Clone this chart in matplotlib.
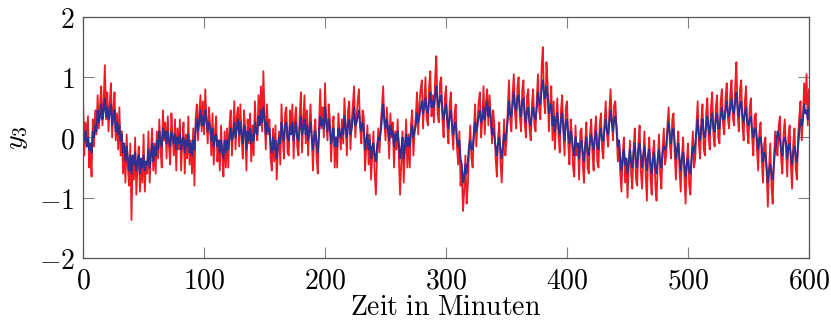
import matplotlib
matplotlib.use("Agg")
import matplotlib.pyplot as plt
from matplotlib.ticker import FuncFormatter

plt.rcParams['mathtext.fontset'] = 'cm'

# sampling grid in minutes
t = list(range(0, 601))

# measured signal y3, one value per minute
y3_meas = [
    0.6, -0.3, 0.25, -0.1, 0.35, -0.5, -0.2, -0.65, 0.3, -0.15,
    0.45, 0.05, 0.7, 0.15, 0.55, 0.85, 0.2, 0.6, 1.2, 0.3,
    0.75, 0.1, 0.55, 0.9, 0.0, 0.5, 0.75, -0.05, 0.4, -0.2,
    0.5, -0.3, 0.1, -0.6, -0.2, -0.75, 0.05, -0.5, -0.8, -0.1,
    -1.37, -0.3, -0.7, 0.0, -0.95, -0.45, -0.15, -0.9, -0.35, -0.75,
    0.05, -0.9, -0.4, -0.6, 0.1, -0.75, -0.3, 0.15, -0.55, -0.1,
    -0.6, 0.1, -0.35, 0.3, -0.2, -0.5, 0.45, -0.05, 0.25, -0.35,
    0.35, -0.15, -0.45, 0.4, 0.0, -0.3, 0.3, -0.55, 0.15, -0.2,
    0.3, -0.55, -0.1, 0.25, -0.6, 0.05, -0.35, 0.35, -0.45, -0.05,
    -0.6, 0.15, -0.8, 0.3, 0.55, -0.05, 0.4, 0.7, 0.1, 0.6,
    0.05, 0.8, 0.3, -0.1, 0.5, 0.2, -0.3, 0.4, -0.45, 0.1,
    0.35, -0.4, -0.05, -0.55, 0.2, -0.3, -0.65, 0.1, -0.5, 0.15,
    -0.5, 0.2, 0.45, -0.3, 0.1, 0.6, -0.2, 0.35, 0.5, -0.15,
    0.55, 0.0, -0.35, 0.45, 0.15, -0.55, 0.3, -0.1, 0.4, -0.4,
    0.2, -0.3, 0.6, 0.1, -0.05, 0.7, 0.25, 0.85, 0.1, 1.1,
    0.4, -0.2, 0.55, 0.05, 0.3, -0.35, -0.55, 0.15, -0.4, 0.2,
    -0.7, -0.2, 0.1, -0.45, 0.55, 0.0, -0.35, 0.4, 0.5, -0.25,
    -0.3, 0.45, 0.1, 0.55, -0.35, 0.3, 0.5, -0.15, -0.3, 0.35,
    0.75, -0.25, 0.3, 0.7, -0.1, 0.45, -0.3, 0.2, 0.55, 0.0,
    -0.55, 0.1, 0.3, -0.35, -0.6, 0.2, 0.8, 0.15, 0.5, 0.0,
    0.9, 0.25, -0.05, 0.55, 0.3, -0.4, 0.1, 0.35, -0.5, 0.0,
    -0.5, 0.4, 0.1, -0.2, 0.3, -0.1, 0.65, 0.2, -0.3, 0.45,
    0.6, -0.2, 0.25, 0.55, 0.85, 0.0, 0.3, 0.6, 0.8, 0.15,
    -0.1, 0.45, 0.35, -0.55, -0.2, 0.2, -0.45, 0.05, -0.7, -0.3,
    0.1, -0.6, -0.95, -0.3, 0.15, -0.25, 0.2, 0.5, 0.85, 0.25,
    -0.05, 0.5, 0.15, -0.35, 0.4, 0.0, 0.25, -0.5, 0.1, -0.2,
    0.3, -0.3, -0.95, -0.4, 0.1, -0.75, -0.25, 0.3, -0.5, 0.05,
    -0.5, 0.2, 0.45, -0.3, 0.1, 0.35, 0.75, 0.05, 0.55, 0.8,
    0.95, 0.15, 0.6, 1.0, 0.3, 0.2, 0.85, 1.1, 0.35, 0.7,
    0.25, 1.0, 1.35, 0.4, 0.25, 0.9, 1.0, 0.3, 0.0, 0.65,
    0.85, 0.2, -0.1, 0.55, 0.75, 0.1, -0.2, 0.4, 0.55, -0.15,
    -0.45, 0.1, -0.8, -0.55, -1.22, -0.9, -0.3, -1.1, -0.8, -0.2,
    0.2, -0.35, -0.5, 0.1, 0.55, -0.15, 0.25, 0.6, 0.75, 0.0,
    0.3, 0.85, 0.05, 0.6, 0.8, 0.2, 0.7, 0.35, -0.1, 0.45,
    0.2, -0.35, -0.65, 0.0, 0.25, -0.4, -0.75, -0.2, 0.3, -0.3,
    -0.05, 0.45, 0.95, 0.3, 0.1, 0.7, 1.05, 0.4, 0.15, 0.85,
    1.0, 0.35, 0.1, 0.8, 0.95, 0.25, 0.0, 0.7, 0.8, 0.15,
    -0.05, 0.55, 0.8, 0.2, 0.1, 0.65, 1.05, 0.45, 0.3, 1.15,
    1.5, 0.6, 0.4, 1.25, 0.9, 0.1, 0.55, 0.85, -0.05, 0.6,
    -0.2, 0.3, 0.65, 0.0, -0.25, 0.45, 0.7, 0.1, -0.3, 0.5,
    0.6, -0.1, -0.45, 0.3, 0.05, -0.5, -0.65, 0.2, -0.3, -0.1,
    -0.7, 0.1, 0.15, -0.45, -0.75, -0.1, 0.25, -0.5, -0.6, 0.05,
    0.3, -0.25, -0.55, 0.1, 0.35, -0.4, -0.5, 0.2, 0.4, -0.2,
    -0.35, 0.25, 0.6, 0.05, -0.15, 0.45, 0.8, 0.3, -0.05, 0.55,
    0.6, 0.1, -0.4, -0.05, -0.6, -0.9, -0.3, 0.0, -0.75, -0.35,
    -1.0, -0.5, -0.05, -0.6, -0.85, -0.2, 0.15, -0.7, -0.8, -0.1,
    0.2, -0.55, -0.85, -0.35, 0.1, -0.6, -1.05, -0.3, 0.0, -0.7,
    -0.95, -0.25, -0.05, -0.8, -1.05, -0.4, 0.05, -0.6, -0.85, -0.2,
    0.15, -0.45, -0.3, 0.2, 0.5, -0.1, -0.35, 0.3, 0.4, -0.25,
    -0.7, -0.2, 0.1, -0.55, -0.9, -0.3, 0.0, -0.65, -1.1, -0.4,
    -0.1, -0.8, -0.95, -0.3, 0.1, -0.5, -0.35, 0.2, 0.6, -0.1,
    -0.35, 0.3, 0.55, -0.2, -0.3, 0.4, 0.65, 0.0, -0.2, 0.5,
    0.75, 0.05, -0.15, 0.5, 0.7, 0.0, -0.1, 0.6, 0.8, 0.2,
    0.05, 0.65, 0.9, 0.3, 0.15, 0.75, 0.95, 0.35, 0.2, 0.85,
    1.25, 0.4, 0.1, 0.8, 0.95, 0.2, -0.05, 0.6, 0.85, 0.1,
    -0.1, 0.5, 0.65, 0.0, -0.3, 0.35, 0.4, -0.2, -0.55, 0.1,
    0.25, -0.4, -0.75, -0.1, 0.0, -0.6, -1.15, -0.5, -0.1, -0.8,
    -1.1, -0.4, 0.1, -0.2, -0.3, 0.2, 0.35, -0.35, -0.6, 0.05,
    0.3, -0.2, -0.65, 0.0, 0.2, -0.45, -0.85, -0.1, 0.15, -0.5,
    -0.7, 0.0, 0.35, 0.6, -0.05, 0.3, 0.9, 0.55, 1.05, 0.2,
    0.8,
]

# filtered estimate of y3, one value per minute
y3_filt = [
    0.15, -0.05, 0.1, -0.15, 0.0, -0.2, -0.1, -0.25, 0.1, 0.0,
    0.2, 0.1, 0.45, 0.25, 0.35, 0.55, 0.3, 0.45, 0.65, 0.35,
    0.5, 0.3, 0.4, 0.55, 0.2, 0.35, 0.45, 0.1, 0.25, 0.05,
    0.2, -0.05, 0.05, -0.25, -0.1, -0.4, -0.15, -0.35, -0.55, -0.3,
    -0.6, -0.3, -0.45, -0.25, -0.55, -0.4, -0.3, -0.6, -0.35, -0.5,
    -0.3, -0.55, -0.4, -0.45, -0.2, -0.5, -0.3, -0.1, -0.4, -0.15,
    -0.3, -0.05, -0.2, 0.1, -0.05, -0.15, 0.15, 0.0, 0.1, -0.1,
    0.1, -0.05, -0.15, 0.1, 0.0, -0.1, 0.05, -0.2, 0.0, -0.1,
    0.05, -0.2, -0.05, 0.0, -0.25, -0.05, -0.15, 0.05, -0.25, -0.1,
    -0.3, -0.05, -0.2, 0.15, 0.3, 0.1, 0.25, 0.45, 0.2, 0.35,
    0.2, 0.45, 0.3, 0.1, 0.25, 0.15, -0.05, 0.15, -0.15, 0.0,
    0.05, -0.15, -0.05, -0.25, -0.05, -0.2, -0.35, -0.05, -0.25, -0.05,
    -0.2, 0.0, 0.15, -0.05, 0.05, 0.25, 0.0, 0.15, 0.3, 0.05,
    0.25, 0.05, -0.1, 0.2, 0.1, -0.2, 0.1, -0.05, 0.15, -0.1,
    0.05, -0.05, 0.25, 0.1, 0.05, 0.35, 0.2, 0.45, 0.25, 0.5,
    0.3, 0.05, 0.25, 0.1, 0.15, -0.1, -0.25, 0.0, -0.2, -0.05,
    -0.35, -0.15, 0.0, -0.1, 0.25, 0.05, -0.05, 0.2, 0.25, 0.0,
    -0.05, 0.2, 0.05, 0.25, -0.05, 0.1, 0.25, 0.0, -0.05, 0.15,
    0.35, 0.05, 0.15, 0.3, 0.05, 0.2, -0.05, 0.1, 0.25, 0.0,
    -0.2, 0.0, 0.1, -0.1, -0.25, 0.05, 0.35, 0.2, 0.3, 0.15,
    0.5, 0.25, 0.1, 0.3, 0.15, -0.1, 0.0, 0.15, -0.15, 0.0,
    -0.15, 0.15, 0.05, 0.0, 0.15, 0.05, 0.35, 0.15, 0.0, 0.2,
    0.3, 0.05, 0.15, 0.3, 0.5, 0.2, 0.25, 0.35, 0.45, 0.2,
    0.1, 0.25, 0.15, -0.2, -0.05, 0.05, -0.2, -0.05, -0.35, -0.15,
    -0.1, -0.3, -0.4, -0.15, 0.0, -0.05, 0.1, 0.3, 0.55, 0.3,
    0.15, 0.3, 0.15, -0.05, 0.2, 0.05, 0.1, -0.15, 0.05, -0.05,
    0.1, -0.1, -0.35, -0.2, 0.0, -0.35, -0.15, 0.05, -0.15, 0.0,
    -0.15, 0.1, 0.2, 0.0, 0.1, 0.2, 0.4, 0.25, 0.35, 0.5,
    0.6, 0.4, 0.5, 0.65, 0.45, 0.4, 0.6, 0.75, 0.5, 0.6,
    0.5, 0.7, 0.85, 0.6, 0.5, 0.65, 0.7, 0.45, 0.3, 0.45,
    0.55, 0.3, 0.15, 0.35, 0.45, 0.2, 0.05, 0.2, 0.25, -0.05,
    -0.15, -0.05, -0.35, -0.45, -0.75, -0.65, -0.45, -0.6, -0.4, -0.15,
    -0.05, -0.2, -0.2, 0.05, 0.25, 0.1, 0.2, 0.35, 0.45, 0.25,
    0.3, 0.5, 0.3, 0.45, 0.6, 0.35, 0.5, 0.3, 0.05, 0.15,
    0.0, -0.15, -0.3, -0.1, 0.0, -0.2, -0.35, -0.15, 0.05, -0.05,
    0.1, 0.3, 0.6, 0.4, 0.35, 0.55, 0.75, 0.5, 0.45, 0.65,
    0.7, 0.45, 0.35, 0.6, 0.65, 0.4, 0.25, 0.45, 0.5, 0.25,
    0.2, 0.4, 0.5, 0.35, 0.3, 0.5, 0.75, 0.6, 0.55, 0.8,
    0.95, 0.75, 0.65, 0.85, 0.7, 0.4, 0.5, 0.55, 0.2, 0.35,
    0.1, 0.3, 0.4, 0.15, 0.05, 0.3, 0.4, 0.15, -0.05, 0.25,
    0.3, 0.05, -0.1, 0.1, 0.0, -0.2, -0.3, 0.0, -0.15, -0.1,
    -0.35, -0.1, -0.05, -0.25, -0.4, -0.15, 0.0, -0.25, -0.3, -0.05,
    0.05, -0.1, -0.2, 0.0, 0.1, -0.15, -0.2, 0.05, 0.15, -0.05,
    -0.05, 0.15, 0.3, 0.1, 0.05, 0.25, 0.45, 0.25, 0.1, 0.3,
    0.35, 0.15, -0.15, -0.05, -0.35, -0.55, -0.35, -0.2, -0.45, -0.35,
    -0.6, -0.4, -0.2, -0.4, -0.5, -0.25, -0.1, -0.4, -0.5, -0.2,
    -0.1, -0.3, -0.5, -0.3, -0.15, -0.35, -0.55, -0.3, -0.2, -0.45,
    -0.6, -0.35, -0.25, -0.5, -0.6, -0.35, -0.2, -0.4, -0.5, -0.25,
    -0.15, -0.2, -0.15, 0.1, 0.25, 0.05, -0.1, 0.1, 0.15, -0.1,
    -0.35, -0.2, -0.1, -0.35, -0.55, -0.35, -0.25, -0.45, -0.65, -0.45,
    -0.35, -0.55, -0.6, -0.35, -0.15, -0.25, -0.1, 0.1, 0.3, 0.05,
    -0.05, 0.15, 0.3, 0.05, 0.0, 0.2, 0.35, 0.15, 0.05, 0.3,
    0.4, 0.15, 0.1, 0.3, 0.4, 0.15, 0.15, 0.35, 0.5, 0.3,
    0.3, 0.45, 0.6, 0.4, 0.35, 0.5, 0.65, 0.45, 0.4, 0.6,
    0.75, 0.5, 0.35, 0.55, 0.6, 0.35, 0.25, 0.4, 0.5, 0.25,
    0.2, 0.3, 0.35, 0.1, 0.0, 0.15, 0.15, -0.05, -0.2, 0.0,
    0.0, -0.15, -0.4, -0.25, -0.3, -0.5, -0.75, -0.55, -0.45, -0.6,
    -0.7, -0.45, -0.2, -0.1, 0.1, 0.05, -0.05, -0.2, -0.3, -0.05,
    0.0, -0.1, -0.35, -0.15, -0.1, -0.3, -0.45, -0.25, -0.15, -0.3,
    -0.4, -0.15, 0.1, 0.3, 0.2, 0.3, 0.55, 0.4, 0.45, 0.3,
    0.5,
]

x_ticks = [0, 100, 200, 300, 400, 500, 600]
y_ticks = [-2, -1, 0, 1, 2]

fig = plt.figure(figsize=(8.31, 3.2), dpi=100)
ax = fig.add_axes([0.1, 0.194, 0.8735, 0.753])

ax.plot(t, y3_meas, color='#ed1c24', lw=1.3)
ax.plot(t, y3_filt, color='#2e3192', lw=1.4)

ax.set_xlim(0, 600)
ax.set_ylim(-2, 2)
ax.set_xticks(x_ticks)
ax.set_yticks(y_ticks)
fmt = FuncFormatter(lambda v, p: f'${v:g}$')
ax.xaxis.set_major_formatter(fmt)
ax.yaxis.set_major_formatter(fmt)
ax.tick_params(direction='in', length=8, width=0.8, color='#808080',
               labelsize=20, top=True, right=True, pad=6)

for s in ax.spines.values():
    s.set_color('#555555')
    s.set_linewidth(0.9)

ax.set_xlabel(r'$\mathrm{Zeit\ in\ Minuten}$', fontsize=20, labelpad=-1)
ax.set_ylabel(r'$y_3$', fontsize=20, labelpad=6)

fig.savefig('out.png', dpi=100)
